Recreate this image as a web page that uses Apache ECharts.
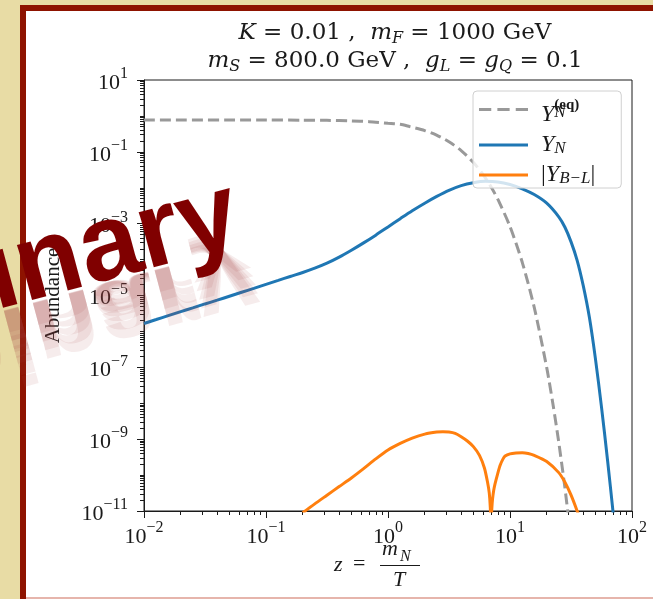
<!DOCTYPE html>
<html><head><meta charset="utf-8">
<script src="https://cdn.jsdelivr.net/npm/echarts@6/dist/echarts.min.js"></script>
<style>html,body{margin:0;padding:0;background:#fff}#c{width:653px;height:599px}</style>
</head><body><div id="c"></div>
<script>
// ---- data ----
const zEq = [0.01, 0.1, 0.2, 0.316, 0.5, 0.7, 1.0, 1.26, 1.5, 2, 2.5, 3.16, 4, 5, 6, 7, 8, 10, 12.6, 15.8, 20, 22.5, 25, 28.2, 31.6];
const yEq = [0.77, 0.768, 0.762, 0.753, 0.727, 0.691, 0.625, 0.585, 0.506, 0.391, 0.292, 0.191, 0.107, 0.0511, 0.0236, 0.0105, 4.57e-3, 8.3e-4, 8.4e-5, 4.67e-6, 9.8e-8, 9.4e-9, 9.0e-10, 4.4e-11, 1.7e-12];

const zN = [0.01, 0.0126, 0.0158, 0.02, 0.0251, 0.0316, 0.0398, 0.0501, 0.0631, 0.0794, 0.1, 0.126, 0.158, 0.2, 0.251, 0.316, 0.398, 0.501, 0.631, 0.794, 1, 1.26, 1.58, 2, 2.51, 3.16, 3.98, 5.01, 6.31, 7.94, 10, 12.6, 15.8, 20, 25.1, 28.2, 31.6, 35.5, 39.8, 44.7, 50.1, 56.2, 63.1, 70.8];
const yN = [1.66e-6, 2.14e-6, 2.75e-6, 3.55e-6, 4.52e-6, 5.82e-6, 7.41e-6, 9.55e-6, 1.23e-5, 1.58e-5, 2.04e-5, 2.63e-5, 3.39e-5, 4.37e-5, 5.75e-5, 7.94e-5, 1.17e-4, 1.82e-4, 2.92e-4, 4.79e-4, 8.13e-4, 1.38e-3, 2.29e-3, 3.72e-3, 5.75e-3, 8.51e-3, 1.15e-2, 1.38e-2, 1.51e-2, 1.45e-2, 1.23e-2, 9.33e-3, 6.46e-3, 3.72e-3, 1.55e-3, 7.94e-4, 3.16e-4, 9.55e-5, 1.91e-5, 2.51e-6, 1.78e-7, 7.94e-9, 2.51e-10, 6.3e-12];

const zBL = [0.2, 0.251, 0.316, 0.398, 0.501, 0.631, 0.794, 1, 1.26, 1.58, 2, 2.51, 2.82, 3.16, 3.55, 3.98, 4.47, 5.01, 5.62, 6.17, 6.53, 6.76, 6.89, 6.95, 6.98, 7.03, 7.1, 7.2, 7.35, 7.53, 7.94, 8.32, 8.77, 9.12, 10, 11.2, 12.6, 14.1, 15.8, 20, 25.1, 28.2, 31.6, 35.5, 39.8];
const yBL = [8.9e-12, 1.58e-11, 2.75e-11, 4.79e-11, 8.3e-11, 1.51e-10, 2.82e-10, 5.0e-10, 7.6e-10, 1.07e-9, 1.38e-9, 1.58e-9, 1.62e-9, 1.58e-9, 1.45e-9, 1.17e-9, 8.9e-10, 6.2e-10, 3.55e-10, 1.58e-10, 6.6e-11, 3.2e-11, 1.3e-11, 4.4e-12, 1e-13, 5e-12, 1.2e-11, 2.2e-11, 3.7e-11, 5.6e-11, 1.12e-10, 1.9e-10, 2.82e-10, 3.39e-10, 3.9e-10, 4.12e-10, 4.2e-10, 4.0e-10, 3.55e-10, 2.4e-10, 1.17e-10, 6.3e-11, 2.8e-11, 1e-11, 3.2e-12];

const seriesNames = ['eq', 'YN', 'YBL'];
const xTickValues = [0.01, 0.1, 1, 10, 100];
const yTickValues = [1e-11, 1e-9, 1e-7, 1e-5, 1e-3, 1e-1, 10];

// minor tick positions
const xMinor = [];
for (let d = -2; d <= 1; d++) for (let m = 2; m <= 9; m++) xMinor.push(m * Math.pow(10, d));
const yMinor = [];
for (let d = -11; d <= 0; d++) {
  if (d % 2 === 0) yMinor.push(Math.pow(10, d));
  for (let m = 2; m <= 9; m++) yMinor.push(m * Math.pow(10, d));
}

const zip = (a, b) => a.map((v, i) => [v, b[i]]);
const SERIF = '"Liberation Serif", "DejaVu Serif", serif';
const TSERIF = '"DejaVu Serif", "Liberation Serif", serif';
const TXT = '#1a1a1a';

const expLabel = v => {
  const e = Math.round(Math.log10(v));
  return '{b|10}{e|' + (e < 0 ? '\u2212' + (-e) : e) + '}';
};
const tickRich = {
  b: { fontFamily: SERIF, fontSize: 22, lineHeight: 28, color: TXT, verticalAlign: 'bottom' },
  e: { fontFamily: SERIF, fontSize: 16, lineHeight: 14, color: TXT, verticalAlign: 'top' }
};

const chart = echarts.init(document.getElementById('c'), null, { renderer: 'canvas' });

const WM = 108;
const wmFont = 'bold ' + WM + 'px "Liberation Sans", Arial, sans-serif';
const wmMid = -0.2 * WM;   // middle line relative to baseline
const wmMirror = 10;       // mirror line below baseline
const reflScales = [1.0, 0.85, 0.7, 0.55, 0.4];

const legendIcons = {
  eq: 'path://M0,0h12v3h-12z M18,0h12v3h-12z M36,0h12v3h-12z',
  YN: 'path://M0,0h48v3h-48z',
  YBL: 'path://M0,0h48v3h-48z'
};

const reflection = reflScales.map(s => ({
  type: 'group', x: 0, y: wmMirror, scaleY: -s, children: [
    { type: 'text', z: 99, x: 0, y: wmMid - wmMirror, style: { text: 'Preliminary', font: wmFont, align: 'right', verticalAlign: 'middle',
      fill: 'rgba(165,70,70,0.10)' } }
  ]
}));

chart.setOption({
  animation: false,
  title: {
    text: '{i|K} = 0.01 ,  {i|m}{s|F} = 1000 GeV\n{i|m}{s|S} = 800.0 GeV ,  {i|g}{s|L} = {i|g}{s|Q} = 0.1',
    left: 390, top: 14, textAlign: 'center',
    textStyle: {
      fontFamily: TSERIF, fontSize: 23, fontWeight: 'normal', color: TXT, lineHeight: 28,
      rich: {
        i: { fontFamily: TSERIF, fontSize: 23, fontStyle: 'italic', color: TXT, lineHeight: 28 },
        s: { fontFamily: TSERIF, fontSize: 16, fontStyle: 'italic', color: TXT, lineHeight: 14, verticalAlign: 'bottom' }
      }
    }
  },
  grid: { left: 144, right: 21, top: 80, bottom: 88, show: true, borderColor: '#1a1a1a', borderWidth: 1, backgroundColor: 'transparent' },
  legend: {
    orient: 'vertical', left: 473, top: 91,
    padding: [1, 26, 1, 6], itemGap: 6, itemWidth: 49, itemHeight: 4,
    backgroundColor: 'rgba(255,255,255,0.8)', borderColor: '#d0d0d0', borderWidth: 1, borderRadius: 4,
    data: seriesNames.map(n => ({ name: n, icon: legendIcons[n] })),
    formatter: n => {
      if (n === 'eq') return '{g|}{y1|Y}{sup|(eq)}{sub|N}';
      if (n === 'YN') return '{g|}{y|Y}{sub|N}';
      return '{g|}{p||}{y|Y}{sub|B\u2212L}{p||}';
    },
    textStyle: {
      rich: {
        g: { width: 8 },
        y1: { fontFamily: SERIF, fontSize: 24, fontStyle: 'italic', color: TXT, lineHeight: 24, padding: [11, 0, 0, 0] },
        y: { fontFamily: SERIF, fontSize: 24, fontStyle: 'italic', color: TXT, lineHeight: 24 },
        p: { fontFamily: SERIF, fontSize: 24, color: TXT, lineHeight: 24 },
        sub: { fontFamily: SERIF, fontSize: 17, fontStyle: 'italic', color: TXT, lineHeight: 12, verticalAlign: 'bottom' },
        sup: { fontFamily: SERIF, fontSize: 15, fontWeight: 'bold', color: TXT, lineHeight: 14, verticalAlign: 'top', width: 0 }
      }
    }
  },
  xAxis: [{
    type: 'log', logBase: 10, min: 0.01, max: 100,
    axisLine: { show: true, lineStyle: { color: '#1a1a1a', width: 1 } },
    axisTick: { show: true, length: 7, customValues: xTickValues, lineStyle: { color: '#1a1a1a' } },
    axisLabel: { customValues: xTickValues, formatter: expLabel, margin: 9, rich: tickRich },
    splitLine: { show: false }, minorTick: { show: false }
  }, {
    type: 'log', logBase: 10, min: 0.01, max: 100, position: 'bottom',
    axisLine: { show: false },
    axisTick: { show: true, length: 4, customValues: xMinor, lineStyle: { color: '#1a1a1a' } },
    axisLabel: { show: false }, splitLine: { show: false }
  }],
  yAxis: [{
    type: 'log', logBase: 10, min: 1e-11, max: 10,
    name: 'Abundance', nameLocation: 'middle', nameGap: 80, nameRotate: 90,
    nameTextStyle: { fontFamily: SERIF, fontSize: 21, color: TXT },
    axisLine: { show: true, lineStyle: { color: '#1a1a1a', width: 1 } },
    axisTick: { show: true, length: 7, customValues: yTickValues, lineStyle: { color: '#1a1a1a' } },
    axisLabel: { customValues: yTickValues, formatter: expLabel, margin: 16, rich: tickRich },
    splitLine: { show: false }
  }, {
    type: 'log', logBase: 10, min: 1e-11, max: 10, position: 'left',
    axisLine: { show: false },
    axisTick: { show: true, length: 4, customValues: yMinor, lineStyle: { color: '#1a1a1a' } },
    axisLabel: { show: false }, splitLine: { show: false }
  }],
  series: [
    { name: 'eq', type: 'line', data: zip(zEq, yEq), showSymbol: false, symbol: 'none', smooth: 0.25, clip: true,
      lineStyle: { color: '#999999', width: 3, type: [11, 5] }, itemStyle: { color: '#999999' } },
    { name: 'YN', type: 'line', data: zip(zN, yN), showSymbol: false, symbol: 'none', smooth: 0.3, clip: true,
      lineStyle: { color: '#1f77b4', width: 3 }, itemStyle: { color: '#1f77b4' } },
    { name: 'YBL', type: 'line', data: zip(zBL, yBL), showSymbol: false, symbol: 'none', smooth: 0.25, clip: true,
      lineStyle: { color: '#ff7f0e', width: 3 }, itemStyle: { color: '#ff7f0e' } }
  ],
  graphic: [
    { type: 'rect', z: -100, silent: true, shape: { x: 0, y: 0, width: 653, height: 599 }, style: { fill: '#e8dca5' } },
    { type: 'rect', z: -99, silent: true, shape: { x: 20, y: 5, width: 640, height: 600 }, style: { fill: '#8e1300' } },
    { type: 'rect', z: -98, silent: true, shape: { x: 26, y: 11, width: 640, height: 586 }, style: { fill: '#ffffff' } },
    { type: 'rect', z: -97, silent: true, shape: { x: 26, y: 597, width: 640, height: 2 }, style: { fill: '#e6b5ac' } },
    // x axis label z = m_N / T
    { type: 'text', z: 10, silent: true, left: 334, top: 554, style: { text: 'z', font: 'italic 22px ' + SERIF, fill: TXT } },
    { type: 'text', z: 10, silent: true, left: 353, top: 553, style: { text: '=', font: '22px ' + SERIF, fill: TXT } },
    { type: 'text', z: 10, silent: true, left: 382, top: 538, style: { text: 'm', font: 'italic 22px ' + SERIF, fill: TXT } },
    { type: 'text', z: 10, silent: true, left: 400, top: 549, style: { text: 'N', font: 'italic 16px ' + SERIF, fill: TXT } },
    { type: 'rect', z: 10, silent: true, shape: { x: 380, y: 565, width: 40, height: 1 }, style: { fill: TXT } },
    { type: 'text', z: 10, silent: true, left: 393, top: 569, style: { text: 'T', font: 'italic 22px ' + SERIF, fill: TXT } },
    // watermark
    { type: 'group', z: 100, silent: true, x: 243, y: 235, rotation: 15 * Math.PI / 180, children: reflection.concat([
      { type: 'text', z: 100, x: 0, y: wmMid, style: { text: 'Preliminary', font: wmFont, fill: '#800000', align: 'right', verticalAlign: 'middle' } }
    ]) }
  ]
});
</script>
</body></html>
